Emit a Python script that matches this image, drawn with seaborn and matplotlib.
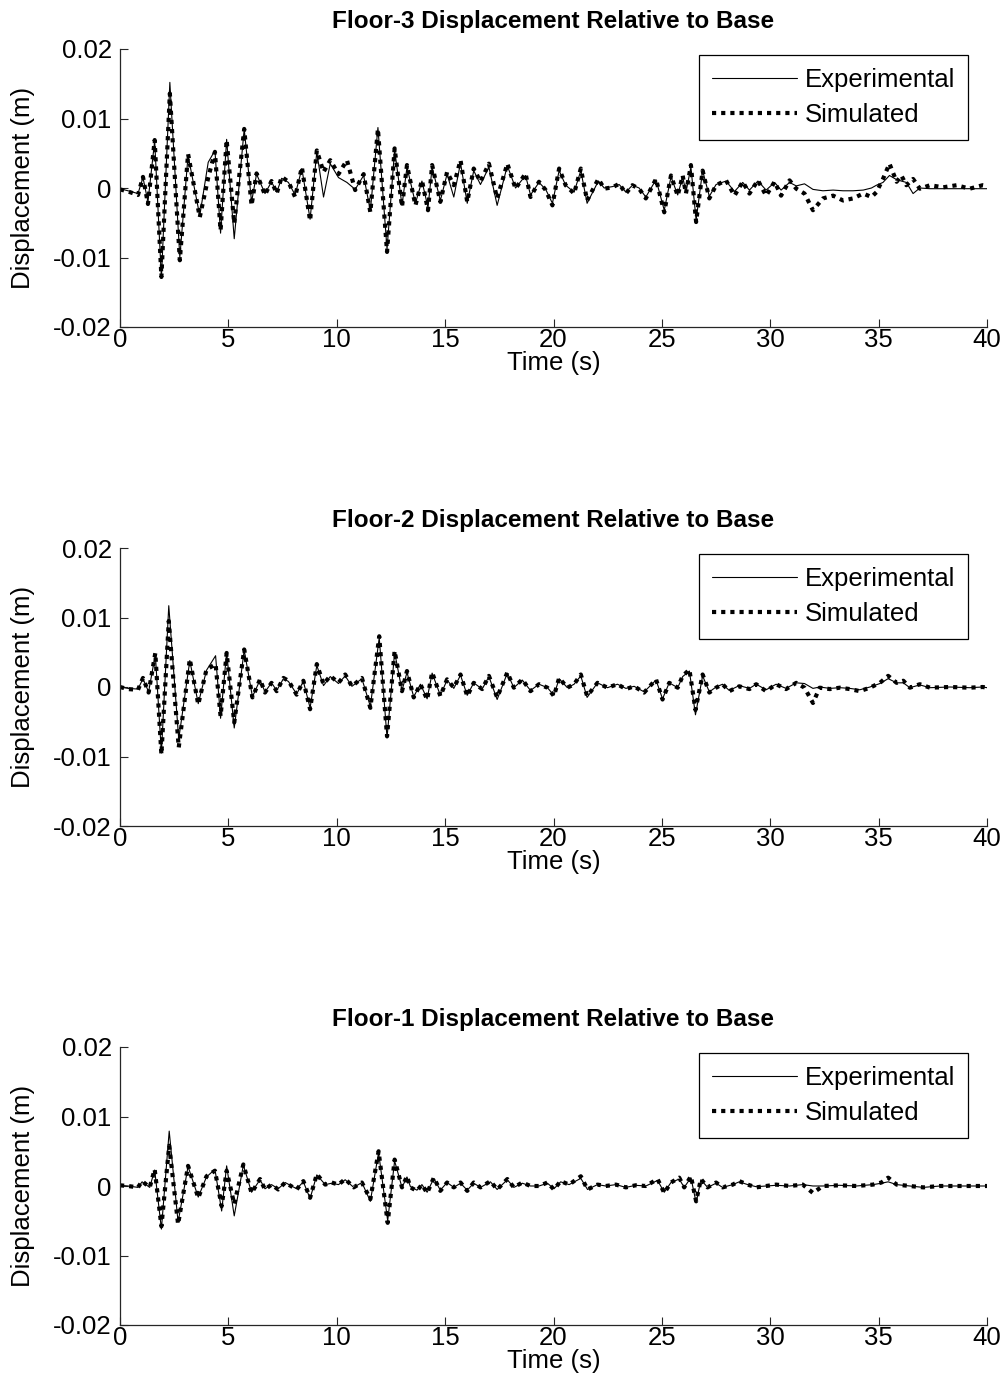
import matplotlib
matplotlib.use("Agg")
import matplotlib.pyplot as plt
import pandas as pd
import seaborn as sns

# ---------------------------------------------------------------------------
# Floor-3 displacement relative to base (m) versus time (s)
# ---------------------------------------------------------------------------
T3 = [0.00, 0.37, 0.83, 1.06, 1.29, 1.60, 1.91, 2.30, 2.76, 3.14,
      3.68, 4.07, 4.38, 4.64, 4.92, 5.27, 5.73, 6.07, 6.30, 6.69,
      6.99, 7.23, 7.46, 7.77, 8.08, 8.39, 8.77, 9.08, 9.39, 9.70,
      10.08, 10.47, 10.85, 11.24, 11.55, 11.90, 12.32, 12.67, 13.01, 13.24,
      13.63, 13.93, 14.21, 14.40, 14.78, 15.09, 15.40, 15.71, 16.02, 16.32,
      16.63, 17.02, 17.40, 17.87, 18.25, 18.71, 18.94, 19.33, 19.64, 19.95,
      20.26, 20.56, 20.95, 21.26, 21.55, 22.07, 22.34, 22.72, 23.03, 23.34,
      23.64, 23.95, 24.26, 24.73, 25.11, 25.42, 25.73, 25.96, 26.11, 26.34,
      26.58,
      26.88, 27.19, 27.50, 27.96, 28.35, 28.73, 29.04, 29.43, 29.81, 30.20,
      30.50, 30.89, 31.20, 31.58, 31.97, 32.43, 32.90, 33.36, 33.82, 34.29,
      34.67, 34.90, 35.20, 35.50, 35.83, 36.05, 36.28, 36.59, 36.90, 37.37,
      37.98, 38.60, 39.20, 39.80, 40.00]
SIM3 = [-0.0002, -0.0005, -0.0010, 0.0016, -0.0023, 0.0069, -0.0128, 0.0136, -0.0104, 0.0049,
        -0.0042, 0.0015, 0.0052, -0.0061, 0.0069, -0.0051, 0.0085, -0.0025, 0.0021, -0.0010,
        0.0010, -0.0008, 0.0016, 0.0009, -0.0013, 0.0030, -0.0047, 0.0054, 0.0023, 0.0040,
        0.0020, 0.0040, -0.0003, 0.0020, -0.0035, 0.0085, -0.0092, 0.0057, -0.0027, 0.0033,
        -0.0025, 0.0011, -0.0032, 0.0033, -0.0020, 0.0023, 0.0004, 0.0040, -0.0020, 0.0028,
        0.0009, 0.0035, -0.0015, 0.0035, -0.0001, 0.0021, -0.0013, 0.0009, -0.0003, -0.0025,
        0.0028, 0.0004, -0.0008, 0.0028, -0.0018, 0.0013, -0.0001, 0.0001, 0.0006, -0.0008,
        0.0004, -0.0001, -0.0015, 0.0013, -0.0035, 0.0018, -0.0011, 0.0018, -0.0008, 0.0033,
        -0.0049,
        0.0025, -0.0015, 0.0004, 0.0011, -0.0011, 0.0009, -0.0008, 0.0011, -0.0011, 0.0009,
        -0.0011, 0.0011, -0.0001, -0.0008, -0.0032, -0.0015, -0.0011, -0.0018, -0.0015, -0.0008,
        -0.0013, -0.0006, 0.0013, 0.0035, 0.0009, 0.0018, 0.0004, 0.0013, -0.0001, 0.0004,
        0.0001, 0.0004, -0.0001, 0.0004, 0.0003]
EXP3 = [-0.0001, -0.0004, -0.0008, 0.0015, -0.0020, 0.0068, -0.0130, 0.0152, -0.0100, 0.0047,
        -0.0040, 0.0037, 0.0054, -0.0065, 0.0070, -0.0073, 0.0085, -0.0020, 0.0020, -0.0008,
        0.0009, -0.0006, 0.0014, 0.0008, -0.0010, 0.0028, -0.0045, 0.0052, -0.0013, 0.0035,
        0.0015, 0.0008, -0.0002, 0.0018, -0.0033, 0.0087, -0.0088, 0.0055, -0.0025, 0.0030,
        -0.0022, 0.0010, -0.0028, 0.0030, -0.0018, 0.0020, -0.0013, 0.0036, -0.0022, 0.0025,
        0.0005, 0.0030, -0.0025, 0.0032, 0.0000, 0.0018, -0.0010, 0.0008, -0.0002, -0.0022,
        0.0025, 0.0004, -0.0006, 0.0025, -0.0022, 0.0010, 0.0000, 0.0002, 0.0005, -0.0006,
        0.0004, 0.0000, -0.0013, 0.0012, -0.0032, 0.0016, -0.0010, 0.0016, -0.0006, 0.0030,
        -0.0046,
        0.0025, -0.0012, 0.0005, 0.0010, -0.0005, 0.0008, -0.0003, 0.0010, -0.0003, 0.0008,
        -0.0003, 0.0008, 0.0003, 0.0006, -0.0002, -0.0004, -0.0003, -0.0004, -0.0004, -0.0003,
        0.0000, 0.0004, 0.0008, 0.0018, 0.0012, 0.0010, 0.0008, -0.0008, 0.0000, -0.0001,
        -0.0001, -0.0001, -0.0001, -0.0001, -0.0001]

# ---------------------------------------------------------------------------
# Floor-2 displacement relative to base
# ---------------------------------------------------------------------------
T2 = [0.00, 0.37, 0.83, 1.06, 1.32, 1.63, 1.91, 2.25, 2.71, 3.22,
      3.61, 3.99, 4.41, 4.64, 4.92, 5.27, 5.73, 6.11, 6.46, 6.69,
      6.99, 7.23, 7.54, 7.77, 8.15, 8.46, 8.77, 9.08, 9.39, 9.70,
      10.08, 10.39, 10.70, 11.16, 11.55, 11.96, 12.32, 12.67, 13.01, 13.24,
      13.55, 13.86, 14.17, 14.40, 14.78, 15.09, 15.40, 15.71, 16.02, 16.32,
      16.71, 17.02, 17.40, 17.87, 18.17, 18.56, 18.94, 19.33, 19.72, 20.02,
      20.26, 20.64, 20.95, 21.26, 21.55, 22.03, 22.49, 22.95, 23.34, 23.72,
      24.18, 24.73, 25.03, 25.34, 25.73, 25.96, 26.27, 26.55,
      26.88, 27.19, 27.50, 27.80, 28.11, 28.57, 29.04, 29.35, 29.81, 30.27,
      30.73, 31.20, 31.58, 31.97, 32.28, 32.75, 33.21, 33.67, 34.13, 34.60,
      35.06, 35.44, 35.83, 36.14, 36.44, 36.90, 37.37, 38.29, 39.20, 39.80,
      40.00]
SIM2 = [0.0000, -0.0003, -0.0004, 0.0013, -0.0008, 0.0049, -0.0097, 0.0095, -0.0087, 0.0040,
        -0.0025, 0.0025, 0.0033, -0.0042, 0.0049, -0.0051, 0.0054, -0.0015, 0.0011, -0.0008,
        0.0006, -0.0006, 0.0013, 0.0009, -0.0011, 0.0009, -0.0032, 0.0033, 0.0004, 0.0016,
        0.0006, 0.0018, 0.0001, 0.0013, -0.0030, 0.0073, -0.0071, 0.0052, -0.0006, 0.0023,
        -0.0015, 0.0004, -0.0018, 0.0021, -0.0013, 0.0011, -0.0001, 0.0018, -0.0013, 0.0006,
        -0.0003, 0.0016, -0.0015, 0.0021, -0.0001, 0.0011, -0.0006, 0.0004, -0.0001, -0.0013,
        0.0013, -0.0001, 0.0004, 0.0018, -0.0013, 0.0006, -0.0001, 0.0004, -0.0003, 0.0001,
        -0.0008, 0.0011, -0.0018, 0.0006, -0.0001, 0.0016, 0.0025, -0.0033,
        0.0018, -0.0008, -0.0001, 0.0004, -0.0006, 0.0001, -0.0003, 0.0004, -0.0006, 0.0004,
        -0.0003, 0.0006, -0.0001, -0.0023, -0.0001, -0.0003, -0.0001, -0.0003, -0.0006, -0.0001,
        0.0006, 0.0016, 0.0006, 0.0009, -0.0001, 0.0004, -0.0001, 0.0000, -0.0001, 0.0000,
        -0.0001]
EXP2 = [0.0000, -0.0002, -0.0003, 0.0012, -0.0007, 0.0047, -0.0095, 0.0117, -0.0075, 0.0038,
        -0.0024, 0.0024, 0.0045, -0.0045, 0.0050, -0.0059, 0.0053, -0.0014, 0.0010, -0.0007,
        0.0006, -0.0005, 0.0012, 0.0008, -0.0010, 0.0008, -0.0030, 0.0031, 0.0002, 0.0015,
        0.0005, 0.0016, 0.0001, 0.0012, -0.0028, 0.0071, -0.0073, 0.0050, -0.0005, 0.0021,
        -0.0014, 0.0004, -0.0017, 0.0020, -0.0012, 0.0010, -0.0002, 0.0017, -0.0012, 0.0006,
        -0.0003, 0.0015, -0.0018, 0.0020, -0.0001, 0.0010, -0.0005, 0.0004, -0.0001, -0.0012,
        0.0012, -0.0001, 0.0004, 0.0016, -0.0015, 0.0006, -0.0001, 0.0004, -0.0002, 0.0001,
        -0.0007, 0.0010, -0.0017, 0.0006, -0.0001, 0.0015, 0.0023, -0.0040,
        0.0016, -0.0007, 0.0000, 0.0004, -0.0005, 0.0002, -0.0002, 0.0004, -0.0004, 0.0004,
        -0.0002, 0.0006, 0.0005, -0.0002, 0.0000, -0.0002, -0.0001, -0.0002, -0.0004, 0.0000,
        0.0005, 0.0012, 0.0006, 0.0006, -0.0001, 0.0003, -0.0001, 0.0000, -0.0001, 0.0000,
        -0.0001]

# ---------------------------------------------------------------------------
# Floor-1 displacement relative to base
# ---------------------------------------------------------------------------
T1 = [0.00, 0.37, 0.83, 1.02, 1.37, 1.60, 1.91, 2.27, 2.68, 3.14,
      3.61, 3.99, 4.38, 4.69, 4.92, 5.27, 5.69, 6.07, 6.46, 6.69,
      6.99, 7.30, 7.62, 8.15, 8.46, 8.77, 9.08, 9.47, 9.77, 10.08,
      10.39, 10.78, 11.16, 11.55, 11.93, 12.35, 12.67, 13.01, 13.24,
      13.40, 13.70, 13.93, 14.17, 14.48, 14.78, 15.09, 15.40, 15.71, 16.02,
      16.32, 16.63, 17.09, 17.40, 17.87, 18.17, 18.56, 18.94, 19.33, 19.72,
      20.02, 20.33, 20.72, 21.26, 21.57, 22.03, 22.41, 22.88, 23.34, 23.79,
      24.26, 24.80, 25.11, 25.42, 25.80, 26.03, 26.34, 26.58,
      26.80, 27.11, 27.50, 27.80, 28.27, 28.57, 28.96, 29.35, 29.81, 30.27,
      30.89, 31.50, 31.97, 32.43, 33.20, 33.97, 34.74, 35.13, 35.44, 35.83,
      36.44, 37.06, 37.83, 38.60, 39.80, 40.00]
SIM1 = [0.0001, 0.0000, -0.0002, 0.0007, -0.0002, 0.0024, -0.0058, 0.0058, -0.0055, 0.0029,
        -0.0017, 0.0014, 0.0022, -0.0029, 0.0022, -0.0026, 0.0031, -0.0010, 0.0010, -0.0005,
        0.0002, -0.0005, 0.0005, -0.0005, 0.0007, -0.0017, 0.0017, 0.0002, 0.0005, 0.0002,
        0.0010, -0.0002, 0.0005, -0.0019, 0.0050, -0.0053, 0.0038, -0.0002, 0.0014,
        -0.0002, -0.0007, 0.0002, -0.0010, 0.0012, -0.0007, 0.0005, -0.0002, 0.0005, -0.0007,
        0.0005, -0.0002, 0.0007, -0.0005, 0.0010, -0.0002, 0.0005, 0.0000, 0.0000, 0.0005,
        -0.0005, 0.0007, 0.0002, 0.0014, -0.0005, 0.0002, 0.0000, 0.0002, -0.0002, 0.0001,
        0.0000, 0.0010, -0.0010, 0.0005, 0.0012, -0.0002, 0.0014, -0.0022,
        0.0010, -0.0002, 0.0005, -0.0002, 0.0002, 0.0007, 0.0002, -0.0002, 0.0000, 0.0002,
        0.0000, 0.0002, -0.0010, 0.0000, 0.0001, 0.0000, 0.0002, 0.0005, 0.0012, 0.0002,
        0.0000, -0.0002, 0.0000, 0.0000, 0.0000, 0.0000]
EXP1 = [0.0001, 0.0000, -0.0002, 0.0006, -0.0002, 0.0023, -0.0062, 0.0079, -0.0052, 0.0028,
        -0.0016, 0.0013, 0.0024, -0.0036, 0.0029, -0.0043, 0.0030, -0.0009, 0.0009, -0.0004,
        0.0002, -0.0004, 0.0005, -0.0004, 0.0006, -0.0018, 0.0016, 0.0002, 0.0004, 0.0002,
        0.0009, -0.0002, 0.0005, -0.0022, 0.0048, -0.0050, 0.0036, -0.0002, 0.0013,
        -0.0001, -0.0006, 0.0002, -0.0009, 0.0011, -0.0006, 0.0005, -0.0002, 0.0004, -0.0006,
        0.0004, -0.0002, 0.0006, -0.0005, 0.0009, -0.0002, 0.0004, 0.0000, 0.0000, 0.0004,
        -0.0004, 0.0006, 0.0002, 0.0011, -0.0005, 0.0002, 0.0000, 0.0002, -0.0002, 0.0001,
        0.0000, 0.0008, -0.0009, 0.0005, 0.0010, -0.0002, 0.0012, -0.0024,
        0.0009, -0.0002, 0.0004, -0.0002, 0.0002, 0.0006, 0.0002, -0.0001, 0.0000, 0.0001,
        0.0000, 0.0002, 0.0000, 0.0000, 0.0001, 0.0000, 0.0002, 0.0004, 0.0006, 0.0002,
        0.0000, -0.0002, 0.0000, 0.0000, 0.0000, 0.0000]

TITLES = ["Floor-3 Displacement Relative to Base",
          "Floor-2 Displacement Relative to Base",
          "Floor-1 Displacement Relative to Base"]
X_TICKS = [0, 5, 10, 15, 20, 25, 30, 35, 40]
Y_TICKS = [-0.02, -0.01, 0.0, 0.01, 0.02]
Y_TICK_LABELS = ["-0.02", "-0.01", "0", "0.01", "0.02"]

floors = [
    pd.DataFrame({"time": T3, "Experimental": EXP3, "Simulated": SIM3}),
    pd.DataFrame({"time": T2, "Experimental": EXP2, "Simulated": SIM2}),
    pd.DataFrame({"time": T1, "Experimental": EXP1, "Simulated": SIM1}),
]

sns.set_style("ticks")
plt.rcParams["font.family"] = ["Liberation Sans", "DejaVu Sans"]
plt.rcParams["axes.unicode_minus"] = False
plt.rcParams["text.color"] = "black"
plt.rcParams["axes.labelcolor"] = "black"
plt.rcParams["xtick.labelcolor"] = "black"
plt.rcParams["ytick.labelcolor"] = "black"

W, H = 1007, 1395
fig = plt.figure(figsize=(W / 100, H / 100), dpi=100)

# axes frames in pixels: (left, top, right, bottom)
frames = [(120, 49, 987, 327), (120, 548, 987, 826), (120, 1047, 987, 1325)]
axis_col = "#262626"
FS = 18.5

for frame, df, title in zip(frames, floors, TITLES):
    l, t, r, b = frame
    ax = fig.add_axes([l / W, 1 - b / H, (r - l) / W, (b - t) / H])

    sns.lineplot(data=df, x="time", y="Experimental", ax=ax, color="black",
                 linewidth=0.8, estimator=None, sort=False, label="Experimental")
    sns.lineplot(data=df, x="time", y="Simulated", ax=ax, color="black",
                 linewidth=3.0, linestyle=(0, (1.0, 1.2)), dash_capstyle="butt",
                 estimator=None, sort=False, label="Simulated")

    ax.set_xlim(0, 40)
    ax.set_ylim(-0.02, 0.02)
    ax.set_xticks(X_TICKS)
    ax.set_xticklabels([str(v) for v in X_TICKS])
    ax.set_yticks(Y_TICKS)
    ax.set_yticklabels(Y_TICK_LABELS)

    sns.despine(ax=ax, top=True, right=True)
    for side in ("left", "bottom"):
        ax.spines[side].set_color(axis_col)
        ax.spines[side].set_linewidth(0.9)
    ax.tick_params(axis="both", direction="in", length=6, width=0.8,
                   color=axis_col, labelsize=FS, labelcolor="black")
    ax.tick_params(axis="y", pad=6)
    ax.tick_params(axis="x", pad=1)

    ax.set_title(title, fontsize=17.5, fontweight="bold", pad=15, color="black")
    ax.set_xlabel("Time (s)", fontsize=FS, labelpad=-1)
    ax.set_ylabel("Displacement (m)", fontsize=FS)
    ax.yaxis.set_label_coords(-0.098, 0.5)

    # legend box sits 6 px below the top of the frame, 19 px in from the right
    leg = ax.legend(loc="upper right",
                    bbox_to_anchor=((r - 19 - l) / (r - l), 1 - 6 / (b - t)),
                    borderaxespad=0, fontsize=FS, frameon=True, fancybox=False,
                    handlelength=3.3, handletextpad=0.3, labelspacing=0.45,
                    borderpad=0.5)
    frame_patch = leg.get_frame()
    frame_patch.set_edgecolor("black")
    frame_patch.set_linewidth(0.9)
    frame_patch.set_alpha(1)

fig.savefig("out.png", dpi=100)
